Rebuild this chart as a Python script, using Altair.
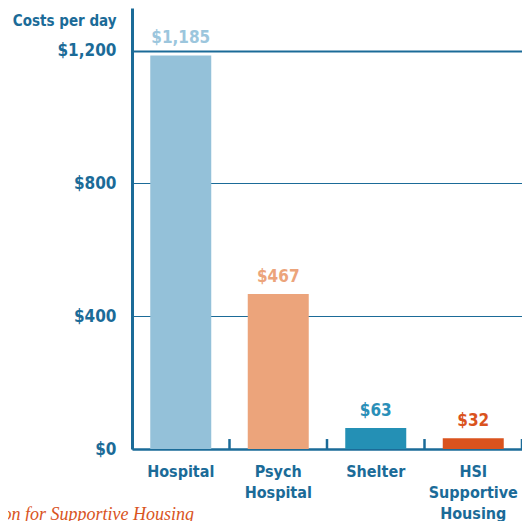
import altair as alt
import pandas as pd

categories = ["Hospital", "Psych|Hospital", "Shelter", "HSI|Supportive|Housing"]
costs = [1185, 467, 63, 32]
value_labels = ["$1,185", "$467", "$63", "$32"]
bar_colors = ["#94c1d9", "#eca47b", "#2490b5", "#da531e"]
label_colors = ["#9cc6dd", "#eca47b", "#2a8fb8", "#da531e"]
y_ticks = [0, 400, 800, 1200]

DARK = "#1b6b98"
FONT = "'DejaVu Sans Condensed', 'Roboto', sans-serif"

df = pd.DataFrame({
    "cat": categories,
    "cost": costs,
    "lab": value_labels,
    "bc": bar_colors,
    "lc": label_colors,
})

xenc = alt.X("cat:N", sort=categories, scale=alt.Scale(paddingInner=0, paddingOuter=0),
             axis=alt.Axis(title=None, labelExpr="split(datum.label, '|')", labelAngle=0,
                           labelFont=FONT, labelFontWeight="bold", labelFontSize=16,
                           labelColor=DARK, labelLineHeight=21, labelPadding=14,
                           labelBaseline="top",
                           ticks=False, domainColor=DARK, domainWidth=2.5))

yenc = alt.Y("cost:Q", scale=alt.Scale(domain=[0, 1328], nice=False),
             axis=alt.Axis(values=y_ticks, labelExpr="'$' + format(datum.value, ',')",
                           title="Costs per day", titleAngle=0, titleAlign="right",
                           titleBaseline="alphabetic", titleX=-16, titleY=17,
                           titleFont=FONT, titleFontSize=15, titleFontWeight="bold",
                           titleColor=DARK,
                           labelFont=FONT, labelFontWeight="bold", labelFontSize=17,
                           labelColor=DARK, labelPadding=16, ticks=False,
                           domainColor=DARK, domainWidth=3,
                           grid=True, gridColor=DARK,
                           gridWidth={"condition": {"test": "datum.value == 1200", "value": 2}, "value": 1.2}))

base = alt.Chart(df)

bars = base.mark_bar(width=61).encode(
    x=xenc, y=yenc,
    color=alt.Color("bc:N", scale=None),
)

texts = base.mark_text(baseline="bottom", dy=-8, font=FONT, fontSize=17, fontWeight="bold").encode(
    x=alt.X("cat:N", sort=categories),
    y="cost:Q",
    text="lab:N",
    color=alt.Color("lc:N", scale=None),
)

ticks = base.mark_rule(color=DARK, strokeWidth=2.5).encode(
    x=alt.X("cat:N", sort=categories, bandPosition=1),
    y=alt.datum(0),
    y2=alt.datum(30),
)

foot = alt.Chart(pd.DataFrame({"t": ["Source: Corporation for Supportive Housing"]})).mark_text(
    align="right", baseline="alphabetic", font="Liberation Serif", fontStyle="italic",
    fontSize=18, color="#d9541e"
).encode(x=alt.value(62), y=alt.value(512), text="t:N")

chart = alt.layer(bars, ticks, texts, foot).properties(
    width=390, height=441,
    padding={"left": 124, "top": 0, "right": 0, "bottom": 72},
    autosize=alt.AutoSizeParams(type="none"),
).configure_view(stroke=None).configure_axis(gridDash=[])

chart.save("out.html", embed_options={"renderer": "svg", "actions": False})
